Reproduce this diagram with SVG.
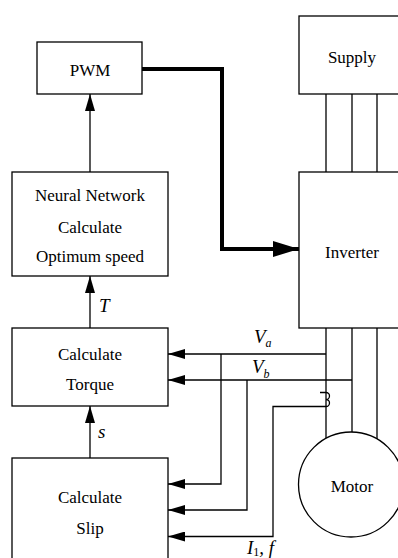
<svg xmlns="http://www.w3.org/2000/svg" width="398" height="558" viewBox="0 0 398 558">
<defs>
<style>
.box{fill:#fff;stroke:#000;stroke-width:1.3}
.ln{fill:none;stroke:#000;stroke-width:1.3}
text{font-family:'Liberation Serif','DejaVu Serif',serif;fill:#000}
.lbl{font-size:17px;text-anchor:middle}
.it{font-style:italic}
</style>
<marker id="ah" markerUnits="userSpaceOnUse" markerWidth="17" markerHeight="10" refX="17" refY="5" orient="auto">
<path d="M0,0 L17,5 L0,10 Z" fill="#000"/>
</marker>
<marker id="ahb" markerUnits="userSpaceOnUse" markerWidth="26" markerHeight="16" refX="26" refY="8" orient="auto">
<path d="M0,0 L26,8 L0,16 Z" fill="#000"/>
</marker>
</defs>
<rect width="398" height="558" fill="#fff"/>

<g id="connectors">
<path class="ln" d="M90,172 V94" marker-end="url(#ah)"/>
<path class="ln" d="M90,328 V276" marker-end="url(#ah)"/>
<path class="ln" d="M90,458 V406" marker-end="url(#ah)"/>
<path d="M142,69 H222 V249 H299" fill="none" stroke="#000" stroke-width="4" marker-end="url(#ahb)"/>
<path class="ln" d="M326,94 V172 M352,94 V172 M377,94 V172"/>
<path class="ln" d="M326,328 V438.5 M352,328 V432 M377,328 V439"/>
<path class="ln" d="M326,354 H168" marker-end="url(#ah)"/>
<path class="ln" d="M352,380 H168" marker-end="url(#ah)"/>
<path class="ln" d="M221,354 V484 H168" marker-end="url(#ah)"/>
<path class="ln" d="M247,380 V510 H168" marker-end="url(#ah)"/>
<path class="ln" d="M320,392.5 H326 A3.5,3.5 0 0 1 326,399.5 A3.5,3.5 0 0 1 326,406.5 H273 V536.5 H168" marker-end="url(#ah)"/>
</g>

<g id="pwm">
<rect class="box" x="37" y="42" width="105" height="52"/>
<text class="lbl" x="90" y="76">PWM</text>
</g>

<g id="neural">
<rect class="box" x="12" y="172" width="156" height="104"/>
<text class="lbl" x="90" y="201">Neural Network</text>
<text class="lbl" x="90" y="233">Calculate</text>
<text class="lbl" x="90" y="262">Optimum speed</text>
</g>

<g id="torque">
<rect class="box" x="12" y="328" width="156" height="78"/>
<text class="lbl" x="90" y="360">Calculate</text>
<text class="lbl" x="90" y="390">Torque</text>
</g>

<g id="slip">
<rect class="box" x="12" y="458" width="156" height="120"/>
<text class="lbl" x="90" y="503">Calculate</text>
<text class="lbl" x="90" y="534">Slip</text>
</g>

<g id="supply">
<rect class="box" x="299" y="16" width="120" height="78"/>
<text class="lbl" x="352" y="63">Supply</text>
</g>

<g id="inverter">
<rect class="box" x="299" y="172" width="120" height="156"/>
<text class="lbl" x="352" y="258">Inverter</text>
</g>

<g id="motor">
<circle class="box" cx="351" cy="484.5" r="52.5"/>
<text class="lbl" x="352" y="492">Motor</text>
</g>

<g id="labels">
<text class="it" x="99" y="312" font-size="19">T</text>
<text class="it" x="98" y="438" font-size="19">s</text>
<text class="it" x="254" y="343" font-size="19">V<tspan font-size="12" dy="4">a</tspan></text>
<text class="it" x="252" y="373" font-size="19">V<tspan font-size="12" dy="5">b</tspan></text>
<text class="it" x="247" y="554" font-size="19">I<tspan font-size="12" font-style="normal" dy="2">1</tspan><tspan dy="-2">, f</tspan></text>
</g>
</svg>
